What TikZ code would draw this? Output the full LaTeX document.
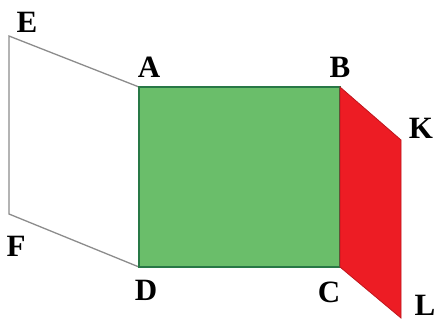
\documentclass[tikz,border=0pt]{standalone}
\usepackage{fontspec}
\setmainfont{Liberation Serif}
\usepackage{xcolor}
\usetikzlibrary{positioning}

\definecolor{facegreen}{RGB}{106,190,106}
\definecolor{edgegreen}{RGB}{40,120,70}
\definecolor{facered}{RGB}{237,28,36}

\begin{document}
\begin{tikzpicture}[
    x=1pt, y=-1pt,
    vertex/.style={font=\fontsize{31}{31}\selectfont\bfseries, inner sep=0pt},
    leftface/.style={draw=gray!90, line width=1.3pt, fill=white},
    midface/.style={draw=edgegreen, line width=1.2pt, fill=facegreen},
    rightface/.style={draw=facered!80!black, line width=0.8pt, fill=facered}
  ]
  \useasboundingbox (0,0) rectangle (439,327);
  % corners
  \coordinate (E) at (9,36);
  \coordinate (F) at (9,214);
  \coordinate (A) at (139,87);
  \coordinate (D) at (139,267);
  \coordinate (B) at (340,87);
  \coordinate (C) at (340,267);
  \coordinate (K) at (401,140);
  \coordinate (L) at (401,318);
  % faces
  \draw[leftface] (E) -- (A) -- (D) -- (F) -- cycle;
  \draw[midface] (A) -- (B) -- (C) -- (D) -- cycle;
  \draw[rightface] (B) -- (K) -- (L) -- (C) -- cycle;
  % labels
  \node[vertex] (lE) at (27,22) {E};
  \node[vertex] (lA) at (149,67) {A};
  \node[vertex] (lB) at (340,67) {B};
  \node[vertex] (lK) at (421,128) {K};
  \node[vertex] (lF) at (16,246) {F};
  \node[vertex] (lD) at (146,290) {D};
  \node[vertex] (lC) at (329,292) {C};
  \node[vertex] (lL) at (425,305) {L};
\end{tikzpicture}
\end{document}
